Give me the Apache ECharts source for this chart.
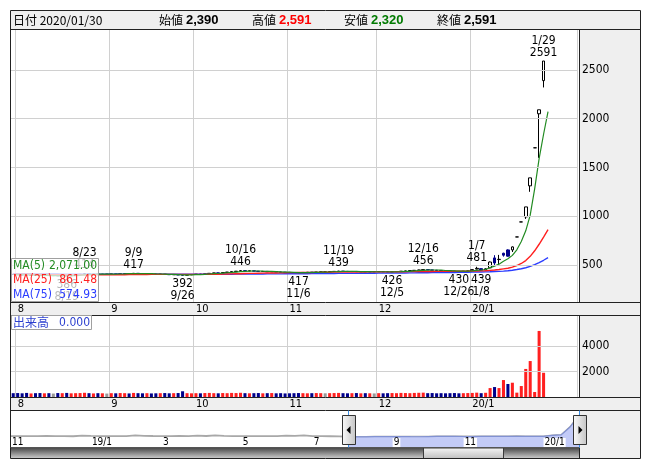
<!DOCTYPE html>
<html>
<head>
<meta charset="utf-8">
<title>chart</title>
<script src="https://cdn.jsdelivr.net/npm/echarts@6/dist/echarts.min.js"></script>
<style>
  html, body { margin: 0; padding: 0; background: #fff; }
  #main { width: 652px; height: 469px; }
</style>
</head>
<body>
<div id="main"></div>
<script>
// 取引日 2019/07/31 - 2020/01/30
var tradingDays = [
  ['2019/07', [31]],
  ['2019/08', [1,2,5,6,7,8,9,13,14,15,16,19,20,21,22,23,26,27,28,29,30]],
  ['2019/09', [2,3,4,5,6,9,10,11,12,13,17,18,19,20,24,25,26,27,30]],
  ['2019/10', [1,2,3,4,7,8,9,10,11,15,16,17,18,21,23,24,25,28,29,30,31]],
  ['2019/11', [1,5,6,7,8,11,12,13,14,15,18,19,20,21,22,25,26,27,28,29]],
  ['2019/12', [2,3,4,5,6,9,10,11,12,13,16,17,18,19,20,23,24,25,26,27,30]],
  ['2020/01', [6,7,8,9,10,14,15,16,17,20,21,22,23,24,27,28,29,30]]
];
var padDays = 6;

// 四本値 [始値, 終値, 安値, 高値]
var candlesJul = [[404,402,399,406]];
var candlesAug = [
  [402,399,397,403],[399,397,395,400],[396,393,391,397],[392,395,391,397],[395,392,390,396],
  [392,390,389,394],[390,393,389,395],[393,391,389,394],[391,391,389,393],[391,388,387,392],
  [388,389,387,391],[390,388,386,391],[388,393,388,394],[393,398,392,399],[398,404,397,406],
  [404,410,403,414],[409,404,403,410],[404,406,402,408],[406,403,401,407],[403,405,402,406],
  [405,405,403,407]
];
var candlesSep = [
  [405,408,404,409],[408,407,405,409],[407,410,406,411],[410,412,409,413],[412,411,409,413],
  [411,414,410,417],[414,411,410,415],[411,409,408,412],[409,410,407,411],[410,407,406,411],
  [407,405,404,408],[405,406,403,407],[406,402,401,407],[402,400,399,403],[400,401,398,402],
  [401,397,396,402],[397,395,392,398],[395,399,394,400],[399,402,398,403]
];
var candlesOct = [
  [402,406,401,407],[406,404,403,408],[404,409,403,410],[409,414,408,415],[414,418,413,419],
  [418,417,415,420],[417,422,416,423],[422,427,421,428],[427,431,426,432],[431,436,430,437],
  [436,441,435,446],[441,438,436,442],[438,440,437,442],[440,436,435,441],[436,433,432,437],
  [433,434,431,436],[434,430,429,435],[430,431,428,432],[431,427,426,432],[427,425,424,428],
  [425,424,422,426]
];
var candlesNov = [
  [424,422,421,425],[422,421,419,423],[421,420,417,422],[420,423,419,424],[423,425,422,426],
  [425,424,423,426],[424,427,423,428],[427,429,426,430],[429,429,427,431],[429,432,428,433],
  [432,434,431,435],[434,436,433,439],[436,434,433,437],[434,432,431,435],[432,433,430,434],
  [433,430,429,434],[430,431,429,432],[431,429,428,432],[429,430,428,431],[430,430,428,431]
];
var candlesDec = [
  [430,431,429,432],[431,429,428,432],[429,428,427,430],[428,429,426,430],[429,432,428,433],
  [432,436,431,437],[436,438,435,439],[438,442,437,443],[442,445,441,446],[445,448,444,450],
  [448,452,447,456],[452,449,448,453],[449,446,445,450],[446,443,442,447],[443,441,440,444],
  [441,438,437,442],[438,436,435,439],[436,435,434,437],[435,433,430,436],[433,436,432,437],
  [436,438,435,440]
];
var candlesJan = [
  [440,452,438,455],[458,465,455,481],[462,446,439,464],[448,460,446,465],[470,530,468,535],
  [572,520,500,600],[555,558,500,603],[620,600,585,625],[654,590,585,660],[654,685,633,690],
  [787,787,787,787],[941,941,941,941],[993,1095,972,1095],[1311,1393,1250,1393],[1701,1701,1701,1701],
  [2050,2091,1598,2091],[2390,2591,2320,2591],'-'
];

// 出来高
var volJul = [300];
var volAug = [310,290,320,280,300,310,290,300,270,310,300,320,290,300,310,330,300,280,300,290,270];
var volSep = [300,290,310,300,280,320,300,290,300,280,290,300,310,290,300,310,450,300,290];
var volOct = [300,290,310,320,300,290,310,300,320,310,330,300,290,300,310,290,300,310,290,300,280];
var volNov = [290,300,310,300,290,300,310,300,290,300,310,320,300,290,300,310,290,300,290,280];
var volDec = [300,290,300,310,300,320,310,300,320,330,340,300,310,290,300,290,300,310,290,300,310];
var volJan = [320,340,300,330,700,780,700,1330,1020,1120,340,860,2200,2820,390,5180,1900,0];

// 移動平均
var ma5Jul = [402];
var ma5Aug = [401,400,398,397,395,393,393,392,391,391,390,389,390,391,394,399,402,404,405,406,405];
var ma5Sep = [405,406,407,408,410,411,412,411,411,410,408,407,406,404,403,401,399,398,399];
var ma5Oct = [400,401,404,407,410,412,416,420,423,427,431,435,437,438,438,436,435,433,431,429,427];
var ma5Nov = [426,424,422,422,422,423,424,426,427,428,430,432,433,434,434,433,432,431,431,430];
var ma5Dec = [430,430,430,429,430,431,433,435,439,442,445,447,448,448,446,443,441,439,437,436,436];
var ma5Jan = [440,445,448,453,472,488,508,538,563,598,655,740,850,1010,1280,1590,1840,2071];

var ma25Jul = [406];
var ma25Aug = [405,405,404,404,403,402,402,401,400,400,399,398,398,398,398,398,398,398,398,398,398];
var ma25Sep = [399,399,400,400,401,401,402,402,402,403,403,403,403,403,403,403,403,403,403];
var ma25Oct = [403,403,403,404,404,405,406,407,408,409,410,412,413,414,415,416,417,418,418,419,420];
var ma25Nov = [421,421,422,422,423,423,424,424,425,425,426,426,427,427,428,428,428,428,429,429];
var ma25Dec = [429,429,429,429,430,430,430,431,431,432,432,433,433,434,434,434,435,435,435,436,436];
var ma25Jan = [437,438,439,440,444,448,453,460,466,478,494,515,545,588,645,712,786,861.48];

var ma75Jul = [410];
var ma75Aug = [410,409,409,409,408,408,408,407,407,407,406,406,406,406,405,405,405,405,405,405,405];
var ma75Sep = [405,405,405,405,404,404,404,404,404,404,404,404,404,404,404,404,404,404,404];
var ma75Oct = [404,404,404,404,405,405,405,405,405,406,406,406,407,407,407,407,408,408,408,408,409];
var ma75Nov = [409,409,410,410,410,411,411,411,412,412,412,413,413,413,414,414,414,415,415,415];
var ma75Dec = [416,416,417,417,417,418,418,419,419,420,420,420,421,421,422,422,423,423,424,424,425];
var ma75Jan = [426,427,428,429,430,432,434,437,441,446,453,461,471,485,503,524,548,574.93];

// 高値・安値の注記
var hiMarks = [['2019/08/23',414],['2019/09/09',417],['2019/10/16',446],['2019/11/19',439],
               ['2019/12/16',456],['2020/01/07',481],['2020/01/29',2591]];
var loMarks = [['2019/08/19',386],['2019/09/26',392],['2019/11/06',417],['2019/12/05',426],
               ['2019/12/26',430],['2020/01/08',439]];

var priceTicks = [500,1000,1500,2000,2500];
var volTicks = [2000,4000];

// ナビゲーター（週足終値）
var navWeekEnds = [
  '2018/11/02','2018/11/09','2018/11/16','2018/11/22','2018/11/30','2018/12/07','2018/12/14','2018/12/21','2018/12/28',
  '2019/01/04','2019/01/11','2019/01/18','2019/01/25','2019/02/01','2019/02/08','2019/02/15','2019/02/22',
  '2019/03/01','2019/03/08','2019/03/15','2019/03/22','2019/03/29','2019/04/05','2019/04/12','2019/04/19','2019/04/26',
  '2019/05/10','2019/05/17','2019/05/24','2019/05/31','2019/06/07','2019/06/14','2019/06/21','2019/06/28',
  '2019/07/05','2019/07/12','2019/07/19','2019/07/26','2019/08/02','2019/08/09','2019/08/16','2019/08/23','2019/08/30',
  '2019/09/06','2019/09/13','2019/09/20','2019/09/27','2019/10/04','2019/10/11','2019/10/18','2019/10/25',
  '2019/11/01','2019/11/08','2019/11/15','2019/11/22','2019/11/29','2019/12/06','2019/12/13','2019/12/20','2019/12/27',
  '2020/01/03','2020/01/10','2020/01/17','2020/01/24','2020/01/31'
];
var navCloses = [
  470,462,458,466,472,460,455,448,520,
  480,470,468,465,470,530,490,475,
  470,465,472,468,520,475,530,480,470,
  465,460,462,470,468,520,478,530,
  470,455,450,440,
  397,393,389,410,405,411,407,400,399,414,431,440,430,422,425,432,433,430,432,448,441,436,438,530,590,1393,2591
];

var NUM_FONT = "'Liberation Sans Narrow','DejaVu Sans Condensed','Liberation Sans',sans-serif";
var JP_FONT = "'Noto Sans CJK JP',sans-serif";
var C_UP = '#ff2020', C_DOWN = '#00008b', C_FLAT = '#999999';

function pad2(n) { return n < 10 ? '0' + n : '' + n; }

var dates = [];
tradingDays.forEach(function (m) {
  m[1].forEach(function (d) { dates.push(m[0] + '/' + pad2(d)); });
});
var cats = dates.slice();
for (var p = 1; p <= padDays; p++) cats.push('pad' + p);

var candles = [].concat(candlesJul, candlesAug, candlesSep, candlesOct, candlesNov, candlesDec, candlesJan);
var volumes = [].concat(volJul, volAug, volSep, volOct, volNov, volDec, volJan);
var ma5 = [].concat(ma5Jul, ma5Aug, ma5Sep, ma5Oct, ma5Nov, ma5Dec, ma5Jan);
var ma25 = [].concat(ma25Jul, ma25Aug, ma25Sep, ma25Oct, ma25Nov, ma25Dec, ma25Jan);
var ma75 = [].concat(ma75Jul, ma75Aug, ma75Sep, ma75Oct, ma75Nov, ma75Dec, ma75Jan);

// 月初のインデックス
var monthStart = {};
for (var i = 1; i < dates.length; i++) {
  if (dates[i].slice(0, 7) !== dates[i - 1].slice(0, 7)) monthStart[i] = true;
}
function monthLabel(d) {
  var mm = +d.slice(5, 7);
  return mm === 1 ? d.slice(2, 4) + '/1' : '' + mm;
}
function md(d) { return (+d.slice(5, 7)) + '/' + (+d.slice(8, 10)); }

// 出来高の色は前日比
var volData = volumes.map(function (v, i) {
  var c = candles[i];
  if (c === '-') return { value: v, itemStyle: { color: C_FLAT } };
  var prev = i > 0 && candles[i - 1] !== '-' ? candles[i - 1][1] : c[0];
  var col = c[1] > prev ? C_UP : (c[1] < prev ? C_DOWN : C_FLAT);
  return { value: v, itemStyle: { color: col } };
});

// ナビゲーターの選択範囲（メイン表示の初日を含む週から最後まで）
var navStart = 0;
while (navStart < navWeekEnds.length && navWeekEnds[navStart] < dates[0]) navStart++;
var navEnd = navWeekEnds.length - 1;
var navSel = navCloses.map(function (v, i) { return i >= navStart ? v : '-'; });

function dateAxis(gi) {
  return {
    type: 'category', gridIndex: gi, data: cats, boundaryGap: true,
    axisLine: { show: false }, axisTick: { show: false },
    axisLabel: {
      interval: function (idx) { return !!monthStart[idx]; },
      formatter: function (v) { return v.indexOf('pad') === 0 ? '' : monthLabel(v); },
      align: 'left', margin: 2, fontSize: 11, lineHeight: 11, color: '#000', fontFamily: NUM_FONT
    },
    splitLine: {
      show: true,
      interval: function (idx) { return !!monthStart[idx]; },
      lineStyle: { color: '#d0d0d0', width: 1 }
    }
  };
}

function tickLines(ticks) {
  return {
    symbol: ['none', 'none'], silent: true, animation: false,
    lineStyle: { color: '#d0d0d0', width: 1, type: 'solid' },
    label: { position: 'end', distance: 5, color: '#000', fontSize: 12, fontFamily: NUM_FONT,
             formatter: function (p) { return '' + p.value; } },
    emphasis: { disabled: true },
    data: ticks.map(function (v) { return { yAxis: v }; })
  };
}

var markData = hiMarks.map(function (h) {
  return { coord: [h[0], h[1]], label: { position: 'top', formatter: md(h[0]) + '\n' + h[1] } };
}).concat(loMarks.map(function (l) {
  return { coord: [l[0], l[1]], label: { position: 'bottom', formatter: l[1] + '\n' + md(l[0]) } };
}));

var emptyData = cats.map(function () { return '-'; });

var option = {
  animation: false,
  backgroundColor: '#ffffff',
  textStyle: { fontFamily: NUM_FONT },
  grid: [
    { left: 11, top: 30, width: 566, height: 272, outerBoundsMode: 'none' },
    { left: 11, top: 315, width: 566, height: 82, outerBoundsMode: 'none' },
    { left: 11, top: 410, width: 568, height: 37, outerBoundsMode: 'none' }
  ],
  xAxis: [
    dateAxis(0),
    dateAxis(1),
    {
      type: 'category', gridIndex: 2, data: navWeekEnds, boundaryGap: false, z: 10,
      axisLine: { show: false }, axisTick: { show: false }, splitLine: { show: false },
      axisLabel: {
        inside: true, margin: 0,
        interval: function (idx, v) {
          if (idx === 0) return true;
          var m = +v.slice(5, 7);
          return m % 2 === 1 && v.slice(5, 7) !== navWeekEnds[idx - 1].slice(5, 7);
        },
        formatter: function (v) { return monthLabel(v); },
        align: 'left', fontSize: 10, lineHeight: 9, color: '#000', fontFamily: NUM_FONT,
        backgroundColor: '#ffffff', padding: [0, 1, 0, 1]
      }
    }
  ],
  yAxis: [
    { type: 'value', gridIndex: 0, min: 120, max: 2909, show: false },
    { type: 'value', gridIndex: 1, min: 0, max: 6431, show: false },
    { type: 'value', gridIndex: 2, min: -650, max: 3130, show: false }
  ],
  series: [
    {
      name: 'priceGrid', type: 'line', xAxisIndex: 0, yAxisIndex: 0, data: emptyData,
      symbol: 'none', silent: true, z: 1, markLine: tickLines(priceTicks)
    },
    {
      name: 'price', type: 'candlestick', xAxisIndex: 0, yAxisIndex: 0, data: candles,
      barWidth: '72%', z: 2, silent: true,
      itemStyle: {
        color: '#ffffff', color0: C_DOWN,
        borderColor: '#000000', borderColor0: C_DOWN, borderColorDoji: '#000000', borderWidth: 1
      },
      emphasis: { disabled: true },
      markPoint: {
        symbol: 'circle', symbolSize: 1, silent: true, animation: false,
        itemStyle: { color: 'rgba(0,0,0,0)' },
        label: { show: true, distance: 2, color: '#000', fontSize: 12, lineHeight: 12, fontFamily: NUM_FONT },
        emphasis: { disabled: true },
        data: markData
      }
    },
    {
      name: 'MA(75)', type: 'line', xAxisIndex: 0, yAxisIndex: 0, data: ma75, z: 3,
      symbol: 'none', silent: true, lineStyle: { color: '#2a3cff', width: 1.4 }
    },
    {
      name: 'MA(25)', type: 'line', xAxisIndex: 0, yAxisIndex: 0, data: ma25, z: 3,
      symbol: 'none', silent: true, lineStyle: { color: '#ff2020', width: 1.4 }
    },
    {
      name: 'MA(5)', type: 'line', xAxisIndex: 0, yAxisIndex: 0, data: ma5, z: 3,
      symbol: 'none', silent: true, lineStyle: { color: '#228b22', width: 1.2 }
    },
    {
      name: 'volGrid', type: 'line', xAxisIndex: 1, yAxisIndex: 1, data: emptyData,
      symbol: 'none', silent: true, z: 1, markLine: tickLines(volTicks)
    },
    {
      name: '出来高', type: 'bar', xAxisIndex: 1, yAxisIndex: 1, data: volData,
      barWidth: '68%', z: 2, silent: true, emphasis: { disabled: true }
    },
    {
      name: 'navAll', type: 'line', xAxisIndex: 2, yAxisIndex: 2, data: navCloses,
      symbol: 'none', silent: true, z: 2, lineStyle: { color: '#a8a8a8', width: 1.8 }
    },
    {
      name: 'navSel', type: 'line', xAxisIndex: 2, yAxisIndex: 2, data: navSel,
      symbol: 'none', silent: true, z: 3,
      lineStyle: { color: '#8191d2', width: 1.2 },
      areaStyle: { color: '#c3cbf7', opacity: 1, origin: 'start' }
    }
  ]
};

var chart = echarts.init(document.getElementById('main'), null, { renderer: 'canvas' });
chart.setOption(option);

var xl = chart.convertToPixel({ gridIndex: 2 }, [navStart, 0])[0];
var xr = chart.convertToPixel({ gridIndex: 2 }, [navEnd, 0])[0];

// 枠・パネル・凡例
var g = [];
function rect(x, y, w, h, fill, stroke, z) {
  g.push({ type: 'rect', z: z, silent: true, shape: { x: x, y: y, width: w, height: h },
           style: { fill: fill, stroke: stroke || null, lineWidth: 1 } });
}
function line(x1, y1, x2, y2, color, z) {
  g.push({ type: 'line', z: z, silent: true, shape: { x1: x1, y1: y1, x2: x2, y2: y2 },
           style: { stroke: color, lineWidth: 1 } });
}
function text(x, y, t, font, fill, align, z) {
  g.push({ type: 'text', z: z, silent: true,
           style: { x: x, y: y, text: t, font: font, fill: fill,
                    textAlign: align || 'left', textVerticalAlign: 'middle',
                    align: align || 'left', verticalAlign: 'middle' } });
}
function vgrad(a, b) {
  return { type: 'linear', x: 0, y: 0, x2: 0, y2: 1, colorStops: [{ offset: 0, color: a }, { offset: 1, color: b }] };
}

var PANEL = '#efefef', EDGE = '#222222';
rect(10.5, 10.5, 630, 19, PANEL, null, -5);
rect(579.5, 30, 61, 272, PANEL, null, -5);
rect(10.5, 302.5, 630, 13, PANEL, null, -5);
rect(579.5, 315.5, 61, 82, PANEL, null, -5);
rect(10.5, 397.5, 630, 13, PANEL, null, -5);
rect(579.5, 410.5, 61, 48, PANEL, null, -5);

// スクロールバー
rect(11, 448, 568, 10.5, vgrad('#4a4a4a', '#cfcfcf'), null, 10);
rect(423.5, 448, 80, 10.5, vgrad('#f6f6f6', '#bdbdbd'), '#3a3a3a', 11);

// 枠線
rect(10.5, 10.5, 630, 448, null, EDGE, 20);
line(10.5, 29.5, 640.5, 29.5, EDGE, 20);
line(579.5, 29.5, 579.5, 302.5, EDGE, 20);
line(10.5, 302.5, 640.5, 302.5, EDGE, 20);
line(10.5, 315.5, 640.5, 315.5, EDGE, 20);
line(579.5, 315.5, 579.5, 397.5, EDGE, 20);
line(10.5, 397.5, 640.5, 397.5, EDGE, 20);
line(10.5, 410.5, 640.5, 410.5, EDGE, 20);
line(579.5, 447.5, 579.5, 458.5, EDGE, 20);
line(10.5, 447.5, 579.5, 447.5, '#555555', 20);

// ヘッダー（最終データ）
var lastIdx = candles.length - 1;
while (candles[lastIdx] === '-') lastIdx--;
var last = candles[lastIdx];
function fmt(n) { return n.toLocaleString('en-US'); }
function fmt2(n) { return n.toLocaleString('en-US', { minimumFractionDigits: 2, maximumFractionDigits: 2 }); }
var HB = "bold 13px 'Liberation Sans',sans-serif";
text(13, 20, '日付 ' + dates[dates.length - 1], "12px " + JP_FONT, '#000', 'left', 30);
text(159, 20, '始値', "12px " + JP_FONT, '#000', 'left', 30);
text(186, 20, fmt(last[0]), HB, '#000', 'left', 30);
text(252, 20, '高値', "12px " + JP_FONT, '#000', 'left', 30);
text(279, 20, fmt(last[3]), HB, '#ff0000', 'left', 30);
text(344, 20, '安値', "12px " + JP_FONT, '#000', 'left', 30);
text(371, 20, fmt(last[2]), HB, '#007a00', 'left', 30);
text(437, 20, '終値', "12px " + JP_FONT, '#000', 'left', 30);
text(464, 20, fmt(last[1]), HB, '#000', 'left', 30);

// MA 凡例
rect(11.5, 258.5, 87, 43, 'rgba(255,255,255,0.72)', '#a0a0a0', 30);
var lf = "12px " + NUM_FONT;
text(13, 266, 'MA(5)', lf, '#228b22', 'left', 31);
text(97, 266, fmt2(ma5[ma5.length - 1]), lf, '#228b22', 'right', 31);
text(13, 280, 'MA(25)', lf, '#ff2020', 'left', 31);
text(97, 280, fmt2(ma25[ma25.length - 1]), lf, '#ff2020', 'right', 31);
text(13, 294.5, 'MA(75)', lf, '#2a3cff', 'left', 31);
text(97, 294.5, fmt2(ma75[ma75.length - 1]), lf, '#2a3cff', 'right', 31);

// 出来高 凡例
rect(11.5, 315.5, 80, 14, '#ffffff', '#a0a0a0', 30);
text(13, 322.5, '出来高', "12px " + JP_FONT, '#2b3fcf', 'left', 31);
text(90, 322.5, volumes[volumes.length - 1].toFixed(3), lf, '#2b3fcf', 'right', 31);

// ナビゲーターのハンドル
line(Math.round(xl) + 0.5, 410.5, Math.round(xl) + 0.5, 447.5, '#3a8ee6', 21);
line(Math.round(xr) + 0.5, 410.5, Math.round(xr) + 0.5, 447.5, '#3a8ee6', 21);
function handle(cx, dir) {
  var x0 = Math.round(cx) - 6;
  g.push({ type: 'rect', z: 25, silent: true, shape: { x: x0 + 0.5, y: 415.5, width: 13, height: 29 },
           style: { fill: { type: 'linear', x: 0, y: 0, x2: 1, y2: 0,
                            colorStops: [{ offset: 0, color: '#fbfbfb' }, { offset: 1, color: '#c4c4c4' }] },
                    stroke: '#333333', lineWidth: 1 } });
  var mx = x0 + 7, my = 430;
  var pts = dir < 0 ? [[mx - 2.5, my], [mx + 1.5, my - 4], [mx + 1.5, my + 4]]
                    : [[mx + 2.5, my], [mx - 1.5, my - 4], [mx - 1.5, my + 4]];
  g.push({ type: 'polygon', z: 26, silent: true, shape: { points: pts }, style: { fill: '#000' } });
}
handle(xl, -1);
handle(xr, 1);

chart.setOption({ graphic: { elements: g } });
</script>
</body>
</html>
